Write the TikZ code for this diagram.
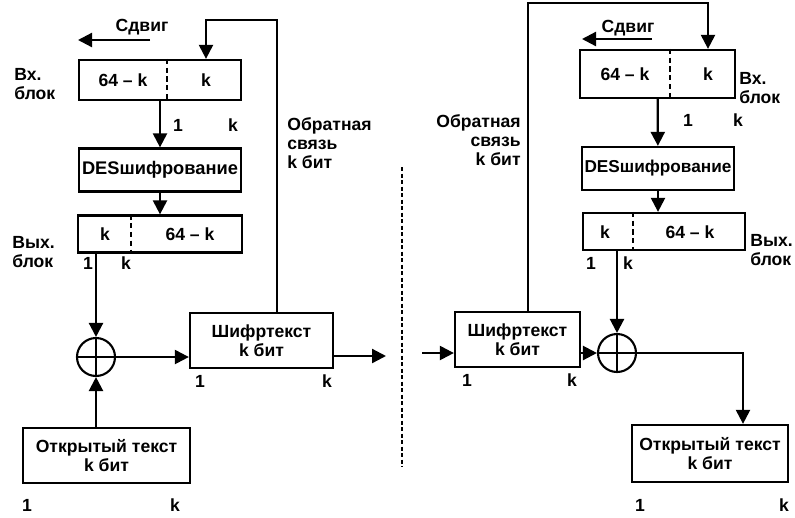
\documentclass[tikz,border=0pt]{standalone}
\usepackage{fontspec}
\setmainfont{Liberation Sans}
\usetikzlibrary{arrows.meta,positioning}
\tikzset{
  blk/.style={draw, line width=1.3pt, inner sep=1pt, align=center},
  field/.style={inner sep=0pt},
  bitno/.style={inner sep=0pt},
  sidelabel/.style={inner sep=0pt},
  xor/.style={draw, circle, line width=1.2pt, minimum size=7.6mm, inner sep=0pt,
    path picture={\draw[line width=1.2pt] (path picture bounding box.north) -- (path picture bounding box.south)
      (path picture bounding box.west) -- (path picture bounding box.east);}},
  divider/.style={draw, densely dashed, line width=0.7pt},
  separator/.style={draw, line width=1.6pt, dash pattern=on 2.5pt off 1.2pt},
  arrow/.style={-{Triangle[length=2.8mm, width=2.8mm]}, line width=1.3pt}
}

\begin{document}
\begin{tikzpicture}[x=0.2mm, y=-0.2mm, font=\fontsize{10}{11}\selectfont\bfseries]
  \useasboundingbox (0,0) rectangle (795,517);

  % encryption
  \node[field] (shiftL) at (142,27) {Сдвиг};
  \coordinate (shiftLs) at (150,40);
  \coordinate (shiftLe) at (78,40);
  \draw[arrow] (shiftLs) -- (shiftLe);

  \node[blk, minimum width=32.4mm, minimum height=8mm] (inL) at (160,80) {};
  \node[field] (inLa) at (123,80) {64 – k};
  \node[field] (inLk) at (206,80) {k};
  \coordinate (inLcut) at (167,0);
  \draw[divider] (inL.north -| inLcut) -- (inL.south -| inLcut);
  \node[sidelabel, align=left, anchor=west] (inLname) at (14,84) {Вх.\\блок};
  \node[bitno] (inL1) at (178,125) {1};
  \node[bitno] (inLn) at (233,125) {k};

  \node[blk, minimum width=32.4mm, minimum height=8.6mm, font=\fontsize{10.4}{11}\selectfont\bfseries] (desL) at (160,170) {DESшифрование};

  \node[blk, minimum width=32.8mm, minimum height=7.4mm] (outL) at (160,234) {};
  \node[field] (outLk) at (105,234) {k};
  \node[field] (outLa) at (190,234) {64 – k};
  \coordinate (outLcut) at (131,0);
  \draw[divider] (outL.north -| outLcut) -- (outL.south -| outLcut);
  \node[sidelabel, align=left, anchor=west] (outLname) at (12,252) {Вых.\\блок};
  \node[bitno] (outL1) at (88,263) {1};
  \node[bitno] (outLn) at (126,263) {k};

  \node[xor] (xorL) at (96,357) {};
  \node[blk, minimum width=28.6mm, minimum height=11mm] (cipherL) at (261.5,340.5) {Шифртекст\\k бит};
  \node[bitno] (cipherL1) at (200,381) {1};
  \node[bitno] (cipherLn) at (327,381) {k};
  \node[blk, minimum width=33.4mm, minimum height=11mm] (plainL) at (106.5,455.5) {Открытый текст\\k бит};
  \node[bitno] (plainL1) at (27,505) {1};
  \node[bitno] (plainLn) at (175,505) {k};

  \coordinate (fbL) at (277,20);
  \coordinate (sendL) at (386,356);
  \node[sidelabel, align=left, anchor=west] (fbLname) at (287,143) {Обратная\\связь\\k бит};

  \draw[arrow] (inL) -- (desL);
  \draw[arrow] (desL.south) -- (desL.south |- outL.north);
  \draw[arrow] (xorL |- outL.south) -- (xorL.north);
  \draw[arrow] (xorL |- plainL.north) -- (xorL.south);
  \draw[arrow] (xorL.east) -- (xorL.east -| cipherL.west);
  \draw[arrow] (sendL -| cipherL.east) -- (sendL);
  \draw[arrow] (fbL |- cipherL.north) -- (fbL) -| (inLk |- inL.north);

  % separator
  \draw[separator] (402,167) -- (402,467);

  % decryption
  \node[field] (shiftR) at (628,28) {Сдвиг};
  \coordinate (shiftRs) at (652,39);
  \coordinate (shiftRe) at (582,39);
  \draw[arrow] (shiftRs) -- (shiftRe);

  \node[blk, minimum width=31mm, minimum height=9.6mm] (inR) at (657.5,74) {};
  \node[field] (inRa) at (625,74) {64 – k};
  \node[field] (inRk) at (708,74) {k};
  \coordinate (inRcut) at (670,0);
  \draw[divider] (inR.north -| inRcut) -- (inR.south -| inRcut);
  \node[sidelabel, align=left, anchor=west] (inRname) at (739,88) {Вх.\\блок};
  \node[bitno] (inR1) at (688,120) {1};
  \node[bitno] (inRn) at (738,120) {k};

  \node[blk, minimum width=30.4mm, minimum height=8.6mm, font=\fontsize{9.8}{11}\selectfont\bfseries] (desR) at (658,168.5) {DESшифрование};

  \node[blk, minimum width=32.4mm, minimum height=7.4mm] (outR) at (664,231.5) {};
  \node[field] (outRk) at (605,232) {k};
  \node[field] (outRa) at (690,232) {64 – k};
  \coordinate (outRcut) at (633,0);
  \draw[divider] (outR.north -| outRcut) -- (outR.south -| outRcut);
  \node[sidelabel, align=left, anchor=west] (outRname) at (750,250) {Вых.\\блок};
  \node[bitno] (outR1) at (591,263) {1};
  \node[bitno] (outRn) at (628,263) {k};

  \node[xor] (xorR) at (617,353) {};
  \node[blk, minimum width=25mm, minimum height=11mm] (cipherR) at (517.5,339.5) {Шифртекст\\k бит};
  \node[bitno] (cipherR1) at (467,380) {1};
  \node[bitno] (cipherRn) at (572,380) {k};
  \node[blk, minimum width=31.2mm, minimum height=11.4mm] (plainR) at (710,453.5) {Открытый текст\\k бит};
  \node[bitno] (plainR1) at (640,505) {1};
  \node[bitno] (plainRn) at (784,505) {k};

  \coordinate (fbR) at (528,3);
  \coordinate (recvR) at (422,353);
  \node[sidelabel, align=right, anchor=east] (fbRname) at (521,140) {Обратная\\связь\\k бит};

  \draw[arrow] (inR) -- (desR);
  \draw[arrow] (desR.south) -- (desR.south |- outR.north);
  \draw[arrow] (xorR |- outR.south) -- (xorR.north);
  \draw[arrow] (recvR) -- (recvR -| cipherR.west);
  \draw[arrow] (xorR.west -| cipherR.east) -- (xorR.west);
  \draw[arrow] (xorR.east) -| ([xshift=6.6mm]plainR.north);
  \draw[arrow] (fbR |- cipherR.north) -- (fbR) -| (inRk |- inR.north);
\end{tikzpicture}
\end{document}
